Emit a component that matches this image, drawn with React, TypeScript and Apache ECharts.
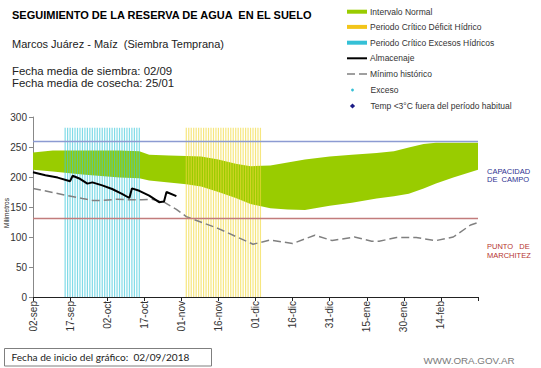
import React, { useEffect, useRef } from "react";
import * as echarts from "echarts";

// Day index counted from 02-sep-2018
const xTickLabels = ["02-sep", "17-sep", "02-oct", "17-oct", "01-nov", "16-nov", "01-dic", "16-dic", "31-dic", "15-ene", "30-ene", "14-feb"];

const bandDays = [0, 8, 20, 35, 43, 47, 55, 62, 68, 75, 82, 88, 96, 103, 110, 120, 129, 139, 146, 152, 158, 163, 170, 180];
const bandUpper = [241, 244, 244, 244, 243, 237, 236, 235, 234, 229, 222, 218, 219, 224, 229, 234, 237, 240, 243, 249, 255, 257, 257, 257];
const bandLower = [212, 209, 204, 199, 198, 194, 191, 188, 184, 175, 165, 155, 148, 146, 145, 152, 157, 164, 168, 172, 181, 189, 199, 212];

const almacenajeDays = [0, 5, 10, 15, 16, 19, 22, 24, 28, 32, 36, 39, 40, 43, 47, 51, 53, 54, 58];
const almacenajeValues = [208, 203, 199, 193, 202, 197, 189, 191, 186, 180, 172, 165, 181, 177, 169, 158, 159, 175, 168];

const minimoDays = [0, 7, 14, 20, 24, 28, 34, 40, 44, 48, 53, 58, 62, 75, 89, 96, 105, 114, 121, 130, 137, 140, 147, 155, 163, 170, 177, 180];
const minimoValues = [181, 175, 169, 164, 161, 161, 163, 162, 162, 163, 158, 146, 134, 114, 88, 95, 89, 103, 94, 100, 93, 93, 99, 99, 94, 100, 120, 124];

const excesoPeriodDays = [13, 14, 15, 16, 17, 18, 19, 20, 21, 22, 23, 24, 25, 26, 27, 28, 29, 30, 31, 32, 33, 34, 35, 36, 37, 38, 39, 40, 41, 42, 43];
const deficitPeriodDays = [62, 63, 64, 65, 66, 67, 68, 69, 70, 71, 72, 73, 74, 75, 76, 77, 78, 79, 80, 81, 82, 83, 84, 85, 86, 87, 88, 89, 90, 91, 92];
const periodHeight = 282;

const capacidadCampo = 259;
const puntoMarchitez = 132;

const FONT = "'Liberation Sans', Arial, sans-serif";

export default function App() {
  const ref = useRef<HTMLDivElement>(null);

  useEffect(() => {
    if (!ref.current) return;
    const chart = echarts.init(ref.current, null, { renderer: "svg" });

    const bandData = bandDays.map((d, i) => [d, bandLower[i], bandUpper[i]]);

    const legendY = [11.7, 26.9, 42.7, 58.3, 74, 90, 106];
    const lx = 347;
    const tx = 370;
    const legendTexts = [
      "Intervalo Normal",
      "Periodo Crítico Déficit Hídrico",
      "Periodo Crítico Excesos Hídricos",
      "Almacenaje",
      "Mínimo histórico",
      "Exceso",
      "Temp <3°C fuera del período habitual",
    ];

    const graphic: any[] = [
      { type: "text", left: 12, top: 9, style: { text: "SEGUIMIENTO DE LA RESERVA DE AGUA  EN EL SUELO", font: `bold 11px ${FONT}`, fill: "#000" } },
      { type: "text", left: 12, top: 38, style: { text: "Marcos Juárez - Maíz  (Siembra Temprana)", font: `11px ${FONT}`, fill: "#222" } },
      { type: "text", left: 12, top: 65, style: { text: "Fecha media de siembra: 02/09", font: `11.4px ${FONT}`, fill: "#222" } },
      { type: "text", left: 12, top: 77.5, style: { text: "Fecha media de cosecha: 25/01", font: `11.4px ${FONT}`, fill: "#222" } },
      { type: "rect", shape: { x: lx, y: legendY[0] - 2, width: 20, height: 4 }, style: { fill: "#99cc00" } },
      { type: "rect", shape: { x: lx, y: legendY[1] - 2, width: 20, height: 4 }, style: { fill: "#f2c51a" } },
      { type: "rect", shape: { x: lx, y: legendY[2] - 2, width: 20, height: 4 }, style: { fill: "#35c0d6" } },
      { type: "line", shape: { x1: lx, y1: legendY[3], x2: lx + 20, y2: legendY[3] }, style: { stroke: "#000", lineWidth: 2 } },
      { type: "line", shape: { x1: lx, y1: legendY[4], x2: lx + 20, y2: legendY[4] }, style: { stroke: "#808080", lineWidth: 1.5, lineDash: [8, 4] } },
      { type: "circle", shape: { cx: lx + 5.5, cy: legendY[5], r: 1.4 }, style: { fill: "#35c0d6" } },
      {
        type: "polygon",
        shape: { points: [[lx + 5.5, legendY[6] - 2.6], [lx + 8.1, legendY[6]], [lx + 5.5, legendY[6] + 2.6], [lx + 2.9, legendY[6]]] },
        style: { fill: "#1c1c86" },
      },
      ...legendTexts.map((t, i) => ({
        type: "text",
        x: i >= 5 ? tx + 0.5 : tx,
        y: legendY[i],
        style: { text: t, font: `8.5px ${FONT}`, fill: "#333", verticalAlign: "middle", align: "left" },
      })),
      { type: "text", x: 487, y: 171, style: { text: "CAPACIDAD", font: `7.5px ${FONT}`, fill: "#2e3192", verticalAlign: "middle" } },
      { type: "text", x: 487, y: 179.5, style: { text: "DE  CAMPO", font: `7.5px ${FONT}`, fill: "#2e3192", verticalAlign: "middle" } },
      { type: "text", x: 487, y: 246.7, style: { text: "PUNTO   DE", font: `7.5px ${FONT}`, fill: "#b5342f", verticalAlign: "middle" } },
      { type: "text", x: 487, y: 255.3, style: { text: "MARCHITEZ", font: `7.5px ${FONT}`, fill: "#b5342f", verticalAlign: "middle" } },
      { type: "text", x: 6, y: 213, rotation: Math.PI / 2, style: { text: "Milímetros", font: `6.5px ${FONT}`, fill: "#222", align: "center", verticalAlign: "middle" } },
      { type: "rect", shape: { x: 4.5, y: 348.5, width: 207, height: 17.5 }, style: { fill: "#fff", stroke: "#7f7f7f", lineWidth: 1 } },
      { type: "text", x: 11.5, y: 357.3, style: { text: "Fecha de inicio del gráfico:  02/09/2018", font: `10.1px Lato, 'Open Sans', sans-serif`, fill: "#222", verticalAlign: "middle" } },
      { type: "text", x: 423.5, y: 360, style: { text: "WWW.ORA.GOV.AR", font: `9.8px ${FONT}`, fill: "#7a7a7a", verticalAlign: "middle" } },
    ];

    const option: any = {
      animation: false,
      backgroundColor: "#fff",
      textStyle: { fontFamily: FONT },
      grid: { left: 33, right: 63, top: 117, bottom: 71, containLabel: false },
      xAxis: {
        type: "value",
        min: 0,
        max: 180,
        interval: 15,
        axisLine: { show: true, lineStyle: { color: "#222", width: 1 } },
        axisTick: { show: true, length: 4, lineStyle: { color: "#222" } },
        splitLine: { show: false },
        axisLabel: {
          rotate: 90,
          fontSize: 10,
          color: "#333",
          margin: 4,
          fontFamily: FONT,
          formatter: (v: number) => xTickLabels[Math.round(v / 15)] ?? "",
        },
      },
      yAxis: {
        type: "value",
        min: 0,
        max: 300,
        interval: 50,
        axisLine: { show: true, lineStyle: { color: "#888", width: 1 } },
        axisTick: { show: true, length: 4, lineStyle: { color: "#888" } },
        splitLine: { show: false },
        axisLabel: { fontSize: 10, color: "#333", margin: 6, fontFamily: FONT },
      },
      graphic,
      series: [
        {
          name: "Intervalo Normal",
          type: "custom",
          z: 1,
          silent: true,
          data: bandData,
          encode: { x: 0, y: [1, 2] },
          renderItem: (params: any, api: any) => {
            if (params.dataIndex !== 0) return null;
            const top = bandDays.map((d, i) => api.coord([d, bandUpper[i]]));
            const bottom = bandDays.map((d, i) => api.coord([d, bandLower[i]])).reverse();
            return {
              type: "polygon",
              shape: { points: top.concat(bottom) },
              style: { fill: "#99cc00" },
            };
          },
        },
        {
          name: "Periodo Crítico Excesos Hídricos",
          type: "bar",
          z: 2,
          barWidth: 1.2,
          silent: true,
          itemStyle: { color: "#3cc8da", opacity: 0.65 },
          data: excesoPeriodDays.map((d) => [d, periodHeight]),
        },
        {
          name: "Periodo Crítico Déficit Hídrico",
          type: "bar",
          z: 2,
          barWidth: 1.2,
          barGap: "-100%",
          silent: true,
          itemStyle: { color: "#f1d83a", opacity: 0.65 },
          data: deficitPeriodDays.map((d) => [d, periodHeight]),
        },
        {
          name: "Mínimo histórico",
          type: "line",
          z: 3,
          symbol: "none",
          lineStyle: { color: "#808080", width: 1.5, type: [8, 4] },
          data: minimoDays.map((d, i) => [d, minimoValues[i]]),
          markLine: {
            silent: true,
            symbol: ["none", "none"],
            label: { show: false },
            data: [
              { yAxis: capacidadCampo, lineStyle: { color: "#8c9bd2", width: 1.3, type: "solid" } },
              { yAxis: puntoMarchitez, lineStyle: { color: "#c27c7c", width: 1.3, type: "solid" } },
            ],
          },
        },
        {
          name: "Almacenaje",
          type: "line",
          z: 4,
          symbol: "none",
          lineStyle: { color: "#000", width: 2 },
          data: almacenajeDays.map((d, i) => [d, almacenajeValues[i]]),
        },
      ],
    };

    chart.setOption(option);
    return () => chart.dispose();
  }, []);

  return <div ref={ref} style={{ position: "fixed", left: 0, top: 0, width: 541, height: 368 }} />;
}
